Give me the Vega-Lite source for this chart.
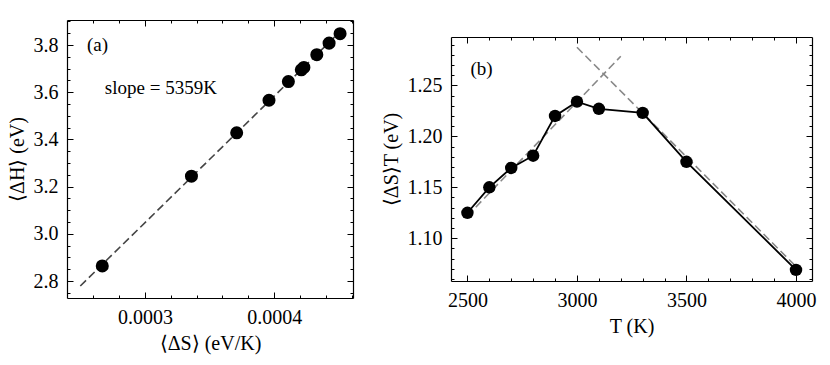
{
  "$schema": "https://vega.github.io/schema/vega-lite/v6.json",
  "padding": {"left": 7, "top": 19, "right": 15, "bottom": 5},
  "autosize": {"type": "pad"},
  "spacing": 27,
  "center": true,
  "config": {
    "font": "Liberation Serif",
    "view": {"stroke": null},
    "axis": {
      "grid": false, "domain": false, "domainColor": "black", "domainWidth": 1.2, "tickColor": "black", "labelColor": "black", "titleColor": "black",
      "labelFont": "Liberation Serif", "titleFont": "Liberation Serif", "labelFontSize": 20, "titleFontSize": 20,
      "titleFontWeight": "normal", "tickSize": -6, "tickWidth": 1, "labelPadding": 15, "titlePadding": 6
    },
    "text": {"font": "Liberation Serif", "fontSize": 19}
  },
  "datasets": {
    "left": [
      {"dS": 0.000267, "dH": 2.864}, {"dS": 0.000336, "dH": 3.244}, {"dS": 0.000371, "dH": 3.428},
      {"dS": 0.000396, "dH": 3.566}, {"dS": 0.000411, "dH": 3.645}, {"dS": 0.000421, "dH": 3.695},
      {"dS": 0.000423, "dH": 3.705}, {"dS": 0.000433, "dH": 3.759}, {"dS": 0.0004425, "dH": 3.808},
      {"dS": 0.000451, "dH": 3.848}
    ],
    "leftfit": [{"dS": 0.00025, "dH": 2.779}, {"dS": 0.000455, "dH": 3.878}],
    "lefttext": [
      {"dS": 0.0002551, "dH": 3.8, "label": "(a)"},
      {"dS": 0.000269, "dH": 3.619, "label": "slope = 5359K"}
    ],
    "right": [
      {"T": 2500, "v": 1.125}, {"T": 2600, "v": 1.150}, {"T": 2700, "v": 1.169}, {"T": 2800, "v": 1.181},
      {"T": 2900, "v": 1.220}, {"T": 3000, "v": 1.234}, {"T": 3100, "v": 1.227}, {"T": 3300, "v": 1.223},
      {"T": 3500, "v": 1.175}, {"T": 4000, "v": 1.069}
    ],
    "rightfit": [
      {"T": 2500, "v": 1.122, "seg": "a"}, {"T": 3200, "v": 1.2785, "seg": "a"},
      {"T": 3000, "v": 1.2873, "seg": "b"}, {"T": 4000, "v": 1.0723, "seg": "b"}
    ],
    "righttext": [{"T": 2514, "v": 1.266, "label": "(b)"}]
  },
  "hconcat": [
    {
      "width": 286, "height": 278,
      "resolve": {"axis": {"x": "independent", "y": "independent"}},
      "layer": [
        {
          "data": {"name": "leftfit"},
          "mark": {"type": "line", "color": "#444444", "strokeDash": [8, 4], "strokeWidth": 1.6},
          "encoding": {
            "x": {"field": "dS", "type": "quantitative", "scale": {"domain": [0.0002397, 0.000461], "nice": false, "zero": false},
                  "axis": {"orient": "bottom", "domain": true, "values": [0.0003, 0.0004], "format": ".4f", "title": "⟨ΔS⟩ (eV/K)"}},
            "y": {"field": "dH", "type": "quantitative", "scale": {"domain": [2.728, 3.906], "nice": false, "zero": false},
                  "axis": {"orient": "left", "domain": true, "values": [2.8, 3.0, 3.2, 3.4, 3.6, 3.8], "format": ".1f", "title": "⟨ΔH⟩ (eV)"}}
          }
        },
        {
          "data": {"name": "left"},
          "mark": {"type": "circle", "color": "black", "size": 170, "opacity": 1},
          "encoding": {
            "x": {"field": "dS", "type": "quantitative", "axis": {"orient": "top", "domain": true, "values": [0.0003, 0.0004], "labels": false, "title": null}},
            "y": {"field": "dH", "type": "quantitative", "axis": {"orient": "right", "domain": true, "values": [2.8, 3.0, 3.2, 3.4, 3.6, 3.8], "labels": false, "title": null}}
          }
        },
        {
          "data": {"name": "left"},
          "mark": {"type": "point", "opacity": 0},
          "encoding": {
            "x": {"field": "dS", "type": "quantitative", "axis": {"orient": "bottom", "values": [0.00026, 0.00028, 0.00032, 0.00034, 0.00036, 0.00038, 0.00042, 0.00044, 0.00046], "labels": false, "title": null, "tickSize": -3}},
            "y": {"field": "dH", "type": "quantitative", "axis": {"orient": "left", "values": [2.75, 2.85, 2.9, 2.95, 3.05, 3.1, 3.15, 3.25, 3.3, 3.35, 3.45, 3.5, 3.55, 3.65, 3.7, 3.75, 3.85, 3.9], "labels": false, "title": null, "tickSize": -3}}
          }
        },
        {
          "data": {"name": "left"},
          "mark": {"type": "point", "opacity": 0},
          "encoding": {
            "x": {"field": "dS", "type": "quantitative", "axis": {"orient": "top", "values": [0.00026, 0.00028, 0.00032, 0.00034, 0.00036, 0.00038, 0.00042, 0.00044, 0.00046], "labels": false, "title": null, "tickSize": -3}},
            "y": {"field": "dH", "type": "quantitative", "axis": {"orient": "right", "values": [2.75, 2.85, 2.9, 2.95, 3.05, 3.1, 3.15, 3.25, 3.3, 3.35, 3.45, 3.5, 3.55, 3.65, 3.7, 3.75, 3.85, 3.9], "labels": false, "title": null, "tickSize": -3}}
          }
        },
        {
          "data": {"name": "lefttext"},
          "mark": {"type": "text", "align": "left", "baseline": "middle", "color": "black"},
          "encoding": {
            "x": {"field": "dS", "type": "quantitative", "axis": null},
            "y": {"field": "dH", "type": "quantitative", "axis": null},
            "text": {"field": "label"}
          }
        }
      ]
    },
    {
      "width": 361, "height": 244,
      "resolve": {"axis": {"x": "independent", "y": "independent"}},
      "layer": [
        {
          "data": {"name": "rightfit"},
          "mark": {"type": "line", "color": "#888888", "strokeDash": [8, 4], "strokeWidth": 1.6},
          "encoding": {
            "x": {"field": "T", "type": "quantitative", "scale": {"domain": [2425, 4073], "nice": false, "zero": false},
                  "axis": {"orient": "bottom", "domain": true, "values": [2500, 3000, 3500, 4000], "format": "d", "title": "T (K)"}},
            "y": {"field": "v", "type": "quantitative", "scale": {"domain": [1.0581, 1.2974], "nice": false, "zero": false},
                  "axis": {"orient": "left", "domain": true, "values": [1.10, 1.15, 1.20, 1.25], "format": ".2f", "title": "⟨ΔS⟩T (eV)"}},
            "detail": {"field": "seg"}
          }
        },
        {
          "data": {"name": "right"},
          "mark": {"type": "line", "color": "black", "strokeWidth": 1.8},
          "encoding": {
            "x": {"field": "T", "type": "quantitative", "axis": {"orient": "top", "domain": true, "values": [2500, 3000, 3500, 4000], "labels": false, "title": null}},
            "y": {"field": "v", "type": "quantitative", "axis": {"orient": "right", "domain": true, "values": [1.10, 1.15, 1.20, 1.25], "labels": false, "title": null}}
          }
        },
        {
          "data": {"name": "right"},
          "mark": {"type": "circle", "color": "black", "size": 155, "opacity": 1},
          "encoding": {
            "x": {"field": "T", "type": "quantitative", "axis": {"orient": "bottom", "values": [2600, 2700, 2800, 2900, 3100, 3200, 3300, 3400, 3600, 3700, 3800, 3900], "labels": false, "title": null, "tickSize": -3}},
            "y": {"field": "v", "type": "quantitative", "axis": {"orient": "left", "values": [1.06, 1.07, 1.08, 1.09, 1.11, 1.12, 1.13, 1.14, 1.16, 1.17, 1.18, 1.19, 1.21, 1.22, 1.23, 1.24, 1.26, 1.27, 1.28, 1.29], "labels": false, "title": null, "tickSize": -3}}
          }
        },
        {
          "data": {"name": "right"},
          "mark": {"type": "point", "opacity": 0},
          "encoding": {
            "x": {"field": "T", "type": "quantitative", "axis": {"orient": "top", "values": [2600, 2700, 2800, 2900, 3100, 3200, 3300, 3400, 3600, 3700, 3800, 3900], "labels": false, "title": null, "tickSize": -3}},
            "y": {"field": "v", "type": "quantitative", "axis": {"orient": "right", "values": [1.06, 1.07, 1.08, 1.09, 1.11, 1.12, 1.13, 1.14, 1.16, 1.17, 1.18, 1.19, 1.21, 1.22, 1.23, 1.24, 1.26, 1.27, 1.28, 1.29], "labels": false, "title": null, "tickSize": -3}}
          }
        },
        {
          "data": {"name": "righttext"},
          "mark": {"type": "text", "align": "left", "baseline": "middle", "color": "black"},
          "encoding": {
            "x": {"field": "T", "type": "quantitative", "axis": null},
            "y": {"field": "v", "type": "quantitative", "axis": null},
            "text": {"field": "label"}
          }
        }
      ]
    }
  ]
}
